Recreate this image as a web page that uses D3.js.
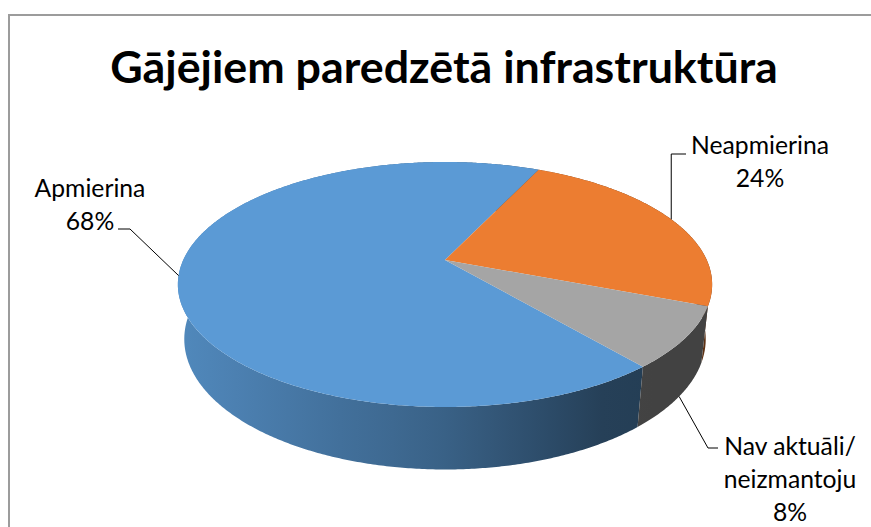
<!DOCTYPE html>
<html>
<head>
<meta charset="utf-8">
<script src="https://cdn.jsdelivr.net/npm/d3@7"></script>
<style>
  html, body { margin: 0; padding: 0; background: #fff; }
  svg { display: block; }
</style>
</head>
<body>
<svg id="chart" width="871" height="527"></svg>
<script>
// chart data
var title = "Gājējiem paredzētā infrastruktūra";
var categories = ["Apmierina", "Neapmierina", "Nav aktuāli/ neizmantoju"];
var labelLines = [["Apmierina"], ["Neapmierina"], ["Nav aktuāli/", "neizmantoju"]];
var values = [68, 24, 8];
var colors = ["#5B9AD5", "#EC7D31", "#A5A5A5"];

var svg = d3.select("#chart"),
    fontFamily = "Lato, 'Noto Sans', 'DejaVu Sans', sans-serif";

// chart area border
svg.append("rect")
    .attr("x", 9).attr("y", 15)
    .attr("width", 900).attr("height", 600)
    .attr("fill", "none")
    .attr("stroke", "#9c9c9c")
    .attr("stroke-width", 2);

// fit a text element to a given width by adjusting its font size
function fitText(sel, target) {
  var w = sel.node().getComputedTextLength();
  var fs = parseFloat(sel.attr("font-size"));
  sel.attr("font-size", fs * target / w);
  return fs * target / w;
}

// title
var titleText = svg.append("text")
    .attr("x", 444).attr("y", 83)
    .attr("text-anchor", "middle")
    .attr("font-family", fontFamily)
    .attr("font-weight", "bold")
    .attr("font-size", 46)
    .attr("fill", "#000")
    .text(title);
fitText(titleText, 668);

// 3d projection of the pie disk (perspective, tilted)
var cx = 445, cy = 260,
    f = 1170, D = 4.47,
    tilt = 26.7 * Math.PI / 180,
    thick = 0.235,
    sinT = Math.sin(tilt), cosT = Math.cos(tilt);

// theta clockwise from the far side, yw = height (0 top, -thick bottom)
function project(theta, yw) {
  var x = Math.sin(theta), z = Math.cos(theta);
  var depth = D + z * cosT - yw * sinT;
  var up = yw * cosT + z * sinT;
  return [cx + f * x / depth, cy - f * up / depth];
}

function arcPoints(a0, a1, yw) {
  var n = Math.max(2, Math.ceil(Math.abs(a1 - a0) / (Math.PI / 360)));
  return d3.range(n + 1).map(function(i) { return project(a0 + (a1 - a0) * i / n, yw); });
}

var pie = d3.pie()
    .sort(null)
    .value(function(d) { return d; })
    .startAngle(140.2 * Math.PI / 180)
    .endAngle(140.2 * Math.PI / 180 + 2 * Math.PI);

var arcs = pie(values);
var total = d3.sum(values);
var pct = d3.format(".0%");
var line = d3.line();

// side shading: darker towards the right
var leftX = project(-Math.PI / 2, 0)[0], rightX = project(Math.PI / 2, 0)[0];
var shade = d3.scaleLinear()
    .domain([0, 0.5, 0.82, 1])
    .range([0.88, 0.63, 0.40, 0.40]);

var defs = svg.append("defs");
arcs.forEach(function(d, i) {
  var base = d3.rgb(colors[i]);
  var grad = defs.append("linearGradient")
      .attr("id", "side" + i)
      .attr("gradientUnits", "userSpaceOnUse")
      .attr("x1", leftX).attr("x2", rightX)
      .attr("y1", 0).attr("y2", 0);
  d3.range(0, 1.0001, 0.1).forEach(function(t) {
    var k = shade(t);
    grad.append("stop")
        .attr("offset", t)
        .attr("stop-color", d3.rgb(base.r * k, base.g * k, base.b * k).formatHex());
  });
});

var pieGroup = svg.append("g");

// rims first
pieGroup.selectAll("path.side")
  .data(arcs)
  .enter().append("path")
    .attr("class", "side")
    .attr("d", function(d) {
      var top = arcPoints(d.startAngle, d.endAngle, 0);
      var bottom = arcPoints(d.endAngle, d.startAngle, -thick);
      return line(top.concat(bottom)) + "Z";
    })
    .attr("fill", function(d, i) { return "url(#side" + i + ")"; });

// top faces
pieGroup.selectAll("path.top")
  .data(arcs)
  .enter().append("path")
    .attr("class", "top")
    .attr("d", function(d) {
      var pts = [[cx, cy]];
      return line(pts.concat(arcPoints(d.startAngle, d.endAngle, 0))) + "Z";
    })
    .attr("fill", function(d, i) { return colors[i]; });

// data labels with leader lines
var labelPos = [
  {x: 90, y: 197, anchorY: 0, elbow: [130, 229], end: [118, 229]},
  {x: 760, y: 154, anchorY: 0, elbow: [676, 154], end: [686, 154]},
  {x: 790, y: 455, anchorY: -thick, elbow: [708, 448], end: [718, 448]}
];
var lineGap = 33;

var probe = svg.append("text")
    .attr("font-family", fontFamily)
    .attr("font-size", 26)
    .text("Neapmierina");
var labelSize = fitText(probe, 138);
probe.remove();

arcs.forEach(function(d, i) {
  var p = labelPos[i];
  var mid = (d.startAngle + d.endAngle) / 2;
  var anchor = project(mid, p.anchorY);
  var elbow = p.elbow.slice();
  if (i === 1) elbow[0] = anchor[0];

  svg.append("path")
      .attr("d", line([anchor, elbow, p.end]))
      .attr("fill", "none")
      .attr("stroke", "#000")
      .attr("stroke-width", 1);

  var lines = labelLines[i].concat([pct(d.data / total)]);
  var t = svg.append("text")
      .attr("text-anchor", "middle")
      .attr("font-family", fontFamily)
      .attr("font-size", labelSize)
      .attr("fill", "#000");
  lines.forEach(function(s, j) {
    t.append("tspan")
        .attr("x", p.x)
        .attr("y", p.y + j * lineGap)
        .text(s);
  });
});
</script>
</body>
</html>
